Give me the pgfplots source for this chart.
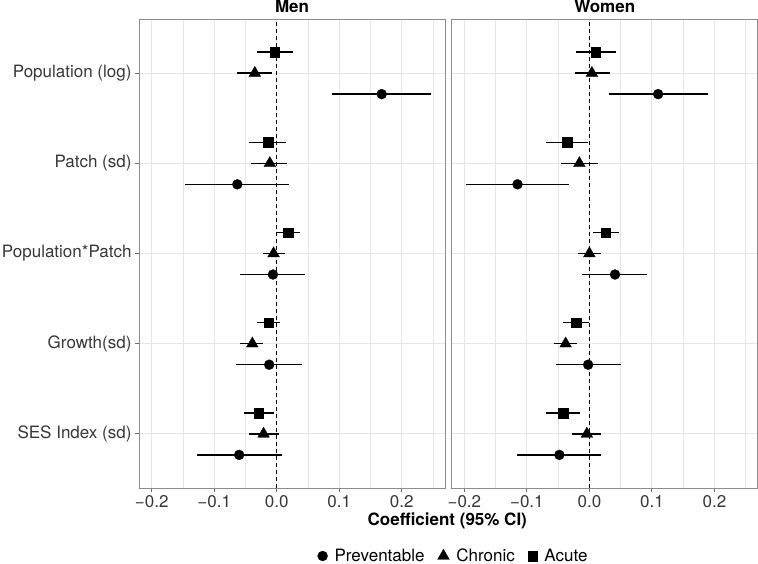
\documentclass[border=0pt]{standalone}
\usepackage{fontspec}
\setmainfont{TeX Gyre Heros}
\usepackage{pgfplots}
\usepackage{pgfplotstable}
\pgfplotsset{compat=1.18}
\definecolor{gridgray}{RGB}{230,230,230}
\definecolor{bordergray}{RGB}{140,140,140}
\definecolor{tickgray}{RGB}{110,110,110}
\definecolor{labgray}{RGB}{55,55,55}

% cat: 5=Population (log), 4=Patch (sd), 3=Population*Patch, 2=Growth(sd), 1=SES Index (sd)
% p = Preventable, c = Chronic, a = Acute ; m = estimate, lo/hi = 95% CI
\pgfplotstableread{
cat pm plo phi cm clo chi am alo ahi
5 0.168 0.089 0.247 -0.035 -0.063 -0.007 -0.003 -0.031 0.026
4 -0.063 -0.146 0.019 -0.011 -0.041 0.017 -0.014 -0.044 0.015
3 -0.006 -0.058 0.046 -0.005 -0.022 0.014 0.018 0.000 0.037
2 -0.012 -0.065 0.041 -0.039 -0.059 -0.022 -0.013 -0.032 0.006
1 -0.060 -0.127 0.008 -0.021 -0.044 0.003 -0.029 -0.053 -0.005
}\men

\pgfplotstableread{
cat pm plo phi cm clo chi am alo ahi
5 0.110 0.031 0.190 0.004 -0.023 0.033 0.010 -0.022 0.042
4 -0.115 -0.198 -0.033 -0.016 -0.045 0.014 -0.036 -0.069 -0.003
3 0.041 -0.012 0.092 0.000 -0.018 0.019 0.026 0.006 0.047
2 -0.002 -0.054 0.051 -0.038 -0.057 -0.020 -0.021 -0.042 -0.001
1 -0.048 -0.116 0.019 -0.004 -0.028 0.019 -0.042 -0.069 -0.015
}\women

\pgfplotsset{
  panel/.style={
    scale only axis, width=306pt, height=469pt,
    xmin=-0.2203, xmax=0.2693, ymin=0.4, ymax=5.6,
    xtick={-0.2,-0.1,0,0.1,0.2},
    xticklabels={−0.2,−0.1,0.0,0.1,0.2},
    minor xtick={-0.15,-0.05,0.05,0.15,0.25},
    ytick={1,2,3,4,5},
    xmajorgrids, xminorgrids, ymajorgrids,
    major grid style={color=gridgray, line width=0.9pt},
    minor grid style={color=gridgray, line width=0.6pt},
    axis line style={color=bordergray, line width=0.9pt},
    tick style={color=tickgray, line width=0.8pt},
    tick align=outside, major tick length=4pt, minor tick length=0pt,
    xtick pos=bottom, ytick pos=left,
    ticklabel style={font=\fontsize{17}{20}\selectfont, text=labgray},
  },
  zeroline/.style={forget plot, black, line width=1.2pt, dash pattern=on 4pt off 3pt},
  prev/.style={only marks, mark=*, mark size=5pt, black, mark options={line width=0.3pt},
    error bars/.cd, x dir=both, x explicit, error mark=none,
    error bar style={line width=1.3pt, black}},
  chron/.style={only marks, mark=triangle*, mark size=6.8pt, black, mark options={line width=0.3pt},
    error bars/.cd, x dir=both, x explicit, error mark=none,
    error bar style={line width=1.3pt, black}},
  acute/.style={only marks, mark=square*, mark size=4.8pt, black, mark options={line width=0.3pt},
    error bars/.cd, x dir=both, x explicit, error mark=none,
    error bar style={line width=1.3pt, black}},
}

\begin{document}
\begin{tikzpicture}
\useasboundingbox (-139pt,-76pt) rectangle (619pt,488pt);
\begin{axis}[panel,
  yticklabels={SES Index (sd),Growth(sd),Population*Patch,Patch (sd),Population (log)},
  legend style={at={(1.028,-0.145)}, anchor=center, draw=none, fill=none,
    legend columns=3, font=\fontsize{17}{20}\selectfont,
    /tikz/every even column/.append style={column sep=11pt},
    /tikz/every odd column/.append style={column sep=5pt}},
]
\addplot[zeroline] coordinates {(0,0.4) (0,5.6)};
\addplot[prev] table[x=pm, y expr=\thisrow{cat}-0.233,
  x error plus expr=\thisrow{phi}-\thisrow{pm}, x error minus expr=\thisrow{pm}-\thisrow{plo}] {\men};
\addlegendentry{Preventable}
\addplot[chron] table[x=cm, y expr=\thisrow{cat},
  x error plus expr=\thisrow{chi}-\thisrow{cm}, x error minus expr=\thisrow{cm}-\thisrow{clo}] {\men};
\addlegendentry{Chronic}
\addplot[acute] table[x=am, y expr=\thisrow{cat}+0.233,
  x error plus expr=\thisrow{ahi}-\thisrow{am}, x error minus expr=\thisrow{am}-\thisrow{alo}] {\men};
\addlegendentry{Acute}
\end{axis}
\begin{axis}[panel, at={(312.7pt,0pt)}, yticklabels={}, ytick style={draw=none}]
\addplot[zeroline] coordinates {(0,0.4) (0,5.6)};
\addplot[prev] table[x=pm, y expr=\thisrow{cat}-0.233,
  x error plus expr=\thisrow{phi}-\thisrow{pm}, x error minus expr=\thisrow{pm}-\thisrow{plo}] {\women};
\addplot[chron] table[x=cm, y expr=\thisrow{cat},
  x error plus expr=\thisrow{chi}-\thisrow{cm}, x error minus expr=\thisrow{cm}-\thisrow{clo}] {\women};
\addplot[acute] table[x=am, y expr=\thisrow{cat}+0.233,
  x error plus expr=\thisrow{ahi}-\thisrow{am}, x error minus expr=\thisrow{am}-\thisrow{alo}] {\women};
\end{axis}
\node[anchor=base, font=\fontsize{17}{20}\selectfont\bfseries] at (153pt,475.5pt) {Men};
\node[anchor=base, font=\fontsize{17}{20}\selectfont\bfseries] at (465.7pt,475.5pt) {Women};
\node[anchor=base, font=\fontsize{17}{20}\selectfont\bfseries] at (308.3pt,-37.7pt) {Coefficient (95\% CI)};
\end{tikzpicture}
\end{document}
